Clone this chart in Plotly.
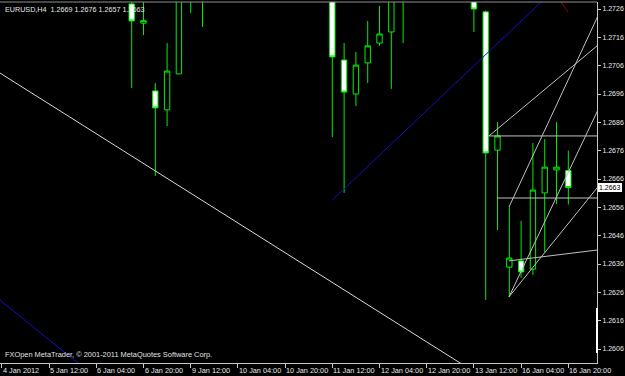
import plotly.graph_objects as go

# ---- data (bar index from the left edge, H4 bars) ----
bar_idx = [11, 12, 13, 14, 15, 16, 17,
           28, 29, 30, 31, 32, 33, 34,
           40, 41, 42, 43, 44, 45, 46, 47, 48]
opens = [1.27278, 1.27210, 1.26971, 1.26904, 1.27031, 1.27380, 1.27450,
         1.27380, 1.27080, 1.26960, 1.27070, 1.27140, 1.27179, 1.27450,
         1.27310, 1.27250, 1.26762, 1.26349, 1.26371, 1.26342, 1.26611, 1.26692, 1.26690]
highs = [1.27295, 1.27350, 1.26999, 1.27140, 1.27410, 1.27520, 1.27550,
         1.27410, 1.27140, 1.27108, 1.27218, 1.27271, 1.27450, 1.27500,
         1.27340, 1.27255, 1.26861, 1.26561, 1.26512, 1.26787, 1.26801, 1.26861, 1.26760]
lows = [1.26981, 1.27168, 1.26671, 1.26847, 1.27031, 1.27246, 1.27197,
        1.26808, 1.26611, 1.26918, 1.26999, 1.27130, 1.26978, 1.27140,
        1.27179, 1.26233, 1.26480, 1.26244, 1.26311, 1.26321, 1.26402, 1.26572, 1.26570]
closes = [1.27218, 1.27219, 1.26911, 1.27041, 1.27370, 1.27450, 1.27400,
          1.27091, 1.26967, 1.27062, 1.27130, 1.27172, 1.27380, 1.27390,
          1.27260, 1.26752, 1.26812, 1.26381, 1.26332, 1.26621, 1.26702, 1.26702, 1.26630]

x_tick_pos = [0, 4, 8, 12, 16, 20, 24, 28, 32, 36, 40, 44, 48]
x_tick_text = ["4 Jan 2012", "5 Jan 12:00", "6 Jan 04:00", "6 Jan 20:00", "9 Jan 12:00",
               "10 Jan 04:00", "10 Jan 20:00", "11 Jan 12:00", "12 Jan 04:00",
               "12 Jan 20:00", "13 Jan 12:00", "16 Jan 04:00", "16 Jan 20:00"]
y_tick_vals = [1.2606, 1.2616, 1.2626, 1.2636, 1.2646, 1.2656, 1.2666,
               1.2676, 1.2686, 1.2696, 1.2706, 1.2716, 1.2726]

# trend objects: (x0, y0, x1, y1) in bar index / price
white_trend = [(-1.0, 1.27056, 40.0, 1.25980)]
blue_trends = [(-1.0, 1.26261, 8.0, 1.25958), (28.0, 1.26586, 46.62, 1.27321)]
red_trends = [(46.96, 1.27310, 47.97, 1.27250)]
silver_lines = [
    (41.28, 1.26812, 51.5, 1.26812),
    (41.95, 1.26593, 51.5, 1.26593),
    (41.28, 1.26812, 51.53, 1.27168),
    (42.97, 1.26561, 51.53, 1.27327),
    (42.97, 1.26244, 51.53, 1.26993),
    (42.97, 1.26244, 51.53, 1.26685),
    (42.97, 1.26371, 51.53, 1.26415),
]

title_text = "EURUSD,H4\u00a0\u00a01.2669\u00a01.2676\u00a01.2657\u00a01.2663"
copyright_text = "FXOpen MetaTrader, \u00a9 2001-2011 MetaQuotes Software Corp."
last_price = 1.2663

FONT = "Liberation Sans"
GREEN = "#00ee00"

fig = go.Figure()

def add_lines(segs, color):
    for x0, y0, x1, y1 in segs:
        fig.add_trace(go.Scatter(x=[x0, x1], y=[y0, y1], mode="lines",
                                 line=dict(color=color, width=1),
                                 hoverinfo="skip", showlegend=False))

add_lines(white_trend, "#d8d8d8")
add_lines(blue_trends, "#1010c8")
add_lines(red_trends, "#a00000")
add_lines(silver_lines, "#c0c0c0")

fig.add_trace(go.Candlestick(
    x=bar_idx, open=opens, high=highs, low=lows, close=closes,
    increasing=dict(line=dict(color=GREEN, width=1), fillcolor="#000000"),
    decreasing=dict(line=dict(color=GREEN, width=1), fillcolor="#ffffff"),
    whiskerwidth=0, showlegend=False, hoverinfo="skip"))

annotations = []
for pos, txt in zip(x_tick_pos, x_tick_text):
    annotations.append(dict(x=pos, xref="x", y=0, yref="paper", text=txt,
                            xanchor="left", yanchor="top", showarrow=False,
                            xshift=-1, yshift=-1,
                            font=dict(family=FONT, size=7.3, color="#e8e8e8")))
annotations.append(dict(x=0, xref="paper", y=1, yref="paper", text=title_text,
                        xanchor="left", yanchor="top", showarrow=False,
                        xshift=3, yshift=-1,
                        font=dict(family=FONT, size=7.2, color="#e8e8e8")))
annotations.append(dict(x=0, xref="paper", y=0, yref="paper", text=copyright_text,
                        xanchor="left", yanchor="bottom", showarrow=False,
                        xshift=3, yshift=2,
                        font=dict(family=FONT, size=7.4, color="#e0e0e0")))
annotations.append(dict(x=1, xref="paper", y=last_price, yref="y",
                        text="%.4f" % last_price, xanchor="left", yanchor="middle",
                        showarrow=False, xshift=1, bgcolor="#ffffff", borderpad=1,
                        bordercolor="#ffffff", borderwidth=0,
                        font=dict(family=FONT, size=7, color="#000000")))

fig.update_layout(
    width=625, height=376,
    margin=dict(l=0, r=28, t=2, b=13, pad=0),
    paper_bgcolor="#000000", plot_bgcolor="#000000",
    boxgap=0.35,
    showlegend=False,
    annotations=annotations,
    shapes=[
        dict(type="line", xref="paper", yref="paper", x0=0, x1=1, y0=1, y1=1,
             line=dict(color="#909090", width=1)),
        dict(type="line", xref="paper", yref="y", x0=1, x1=1, y0=1.26046, y1=1.26205,
             line=dict(color="#ffffff", width=2)),
    ],
    xaxis=dict(range=[-0.16, 50.43], showgrid=False, zeroline=False,
               showline=True, linecolor="#c8c8c8", linewidth=1,
               ticks="outside", ticklen=4, tickcolor="#c8c8c8",
               tickvals=x_tick_pos, showticklabels=False,
               rangeslider=dict(visible=False), fixedrange=True),
    yaxis=dict(range=[1.260106, 1.272848], side="right", showgrid=False,
               zeroline=False, showline=True, linecolor="#c8c8c8", linewidth=1,
               ticks="outside", ticklen=3, tickcolor="#c8c8c8",
               tickvals=y_tick_vals, tickformat=".4f",
               tickfont=dict(family=FONT, size=7, color="#e8e8e8"),
               fixedrange=True),
)

fig.write_html("out.html")
